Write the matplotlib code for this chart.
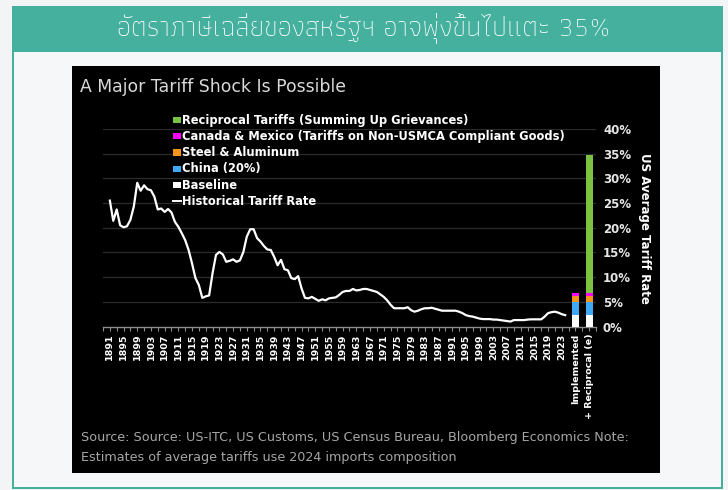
import matplotlib
matplotlib.use("Agg")
import matplotlib.pyplot as plt
from matplotlib.patches import Rectangle
from matplotlib import font_manager as fm
from matplotlib.ft2font import FT2Font
import numpy as np

# ---------------- data ----------------
years = list(range(1891, 2025))
historical_rate = [
    25.5, 21.4, 23.7, 20.5, 20.1, 20.3, 21.6, 24.3, 29.1, 27.5,   # 1891-1900
    28.6, 27.8, 27.6, 26.3, 23.7, 23.9, 23.2, 23.8, 23.1, 21.2,   # 1901-1910
    20.2, 18.9, 17.5, 15.5, 12.8, 9.8, 8.4, 5.8, 6.1, 6.3,        # 1911-1920
    10.8, 14.5, 15.1, 14.6, 13.1, 13.3, 13.6, 13.1, 13.4, 15.1,   # 1921-1930
    18.2, 19.7, 19.7, 17.9, 17.2, 16.3, 15.6, 15.5, 14.1, 12.4,   # 1931-1940
    13.5, 11.6, 11.4, 9.8, 9.6, 10.2, 7.7, 5.8, 5.7, 6.0,         # 1941-1950
    5.6, 5.2, 5.5, 5.3, 5.7, 5.8, 5.9, 6.4, 7.0, 7.2,             # 1951-1960
    7.2, 7.6, 7.3, 7.4, 7.6, 7.6, 7.4, 7.2, 7.0, 6.5,             # 1961-1970
    6.0, 5.3, 4.4, 3.7, 3.7, 3.7, 3.7, 3.9, 3.3, 3.0,             # 1971-1980
    3.2, 3.5, 3.7, 3.7, 3.8, 3.6, 3.4, 3.2, 3.2, 3.2,             # 1981-1990
    3.2, 3.2, 3.0, 2.7, 2.3, 2.1, 2.0, 1.8, 1.6, 1.5,             # 1991-2000
    1.5, 1.5, 1.4, 1.4, 1.3, 1.2, 1.1, 1.0, 1.3, 1.3,             # 2001-2010
    1.3, 1.3, 1.4, 1.45, 1.45, 1.45, 1.45, 2.0, 2.7, 2.9,         # 2011-2020
    3.0, 2.8, 2.5, 2.3,                                           # 2021-2024
]

bar_labels = ["Implemented", "+ Reciprocal (e)"]
bar_pos = [2027, 2031]
baseline = [2.3, 2.3]
china = [2.7, 2.7]
steel_aluminum = [1.1, 1.1]
canada_mexico = [0.6, 0.6]
reciprocal = [0.0, 28.0]

tick_years = list(range(1891, 2024, 4))
y_ticks = [0, 5, 10, 15, 20, 25, 30, 35, 40]

legend_items = [
    ("Reciprocal Tariffs (Summing Up Grievances)", "#7cc242", "patch"),
    ("Canada & Mexico (Tariffs on Non-USMCA Compliant Goods)", "#ff00ff", "patch"),
    ("Steel & Aluminum", "#f7941d", "patch"),
    ("China (20%)", "#3fa9f5", "patch"),
    ("Baseline", "#ffffff", "patch"),
    ("Historical Tariff Rate", "#ffffff", "line"),
]

THAI_TITLE = "อัตราภาษีเฉลี่ยของสหรัฐฯ อาจพุ่งขึ้นไปแตะ 35%"

# ---------------- fonts: pick a light/regular Thai-capable font ----------------
needed = set(c for c in THAI_TITLE if c != " ")
cands = []
for f in sorted(fm.findSystemFonts()):
    try:
        ft = FT2Font(f)
        cov = sum(1 for c in needed if ft.get_char_index(ord(c)))
        style = (ft.style_name or "").lower()
        score = cov * 10
        if "bold" in style or "oblique" in style or "italic" in style:
            score -= 5
        if "light" in style:
            score += 2
        if "regular" in style or style == "book":
            score += 1
        cands.append((score, f))
    except Exception:
        pass
cands.sort(key=lambda t: -t[0])
thai_font = cands[0][1] if cands else None

W, H = 728, 490
fig = plt.figure(figsize=(W / 100, H / 100), dpi=100)
fig.patch.set_facecolor("#f2f4f6")


def px_rect(x0, y0, x1, y1, **kw):
    fig.patches.append(Rectangle((x0 / W, 1 - y1 / H), (x1 - x0) / W, (y1 - y0) / H,
                                 transform=fig.transFigure, figure=fig, **kw))


def fx(x):
    return x / W


def fy(y):
    return 1 - y / H


TEAL = "#46b09f"
px_rect(12, 6, 723, 489, facecolor="#f6f7f9", edgecolor="none", zorder=0)
px_rect(12, 50, 14.5, 489, facecolor=TEAL, edgecolor="none", zorder=1)
px_rect(720.5, 50, 723, 489, facecolor=TEAL, edgecolor="none", zorder=1)
px_rect(12, 486.5, 723, 489, facecolor=TEAL, edgecolor="none", zorder=1)
px_rect(12, 6, 723, 52, facecolor=TEAL, edgecolor="none", zorder=1)

if thai_font:
    tfp = fm.FontProperties(fname=thai_font, size=20)
else:
    tfp = fm.FontProperties(family="DejaVu Sans", size=20)
fig.text(fx(364), fy(28), THAI_TITLE, fontproperties=tfp, color="white",
         ha="center", va="center", zorder=5)

px_rect(72, 66, 660, 473, facecolor="#000000", edgecolor="none", zorder=1)

fig.text(fx(80), fy(87), "A Major Tariff Shock Is Possible", color="#d9d9d9",
         fontsize=12.4, ha="left", va="center", zorder=5)

# ---------------- axes ----------------
ax_l, ax_r, ax_t, ax_b = 103, 596, 129, 326.5
ax = fig.add_axes([fx(ax_l), fy(ax_b), (ax_r - ax_l) / W, (ax_b - ax_t) / H])
ax.set_facecolor("none")
ax.set_zorder(3)
ax.set_xlim(1889.3, 2033.0)
ax.set_ylim(0, 40)

for y in y_ticks[1:]:
    ax.axhline(y, color="#2b2b2b", lw=0.9, zorder=1)

ax.plot(years, historical_rate, color="white", lw=1.6, zorder=4, solid_joinstyle="round")

bw = 2.0
bottom = np.zeros(2)
for vals, col in [(baseline, "#ffffff"), (china, "#3fa9f5"), (steel_aluminum, "#f7941d"),
                  (canada_mexico, "#ff00ff"), (reciprocal, "#7cc242")]:
    ax.bar(bar_pos, vals, width=bw, bottom=bottom, color=col, edgecolor="none", zorder=3)
    bottom = bottom + np.array(vals)

for s in ["top", "left", "right"]:
    ax.spines[s].set_visible(False)
ax.spines["bottom"].set_color("#8c8c8c")
ax.spines["bottom"].set_linewidth(1.0)

ax.set_xticks(tick_years + bar_pos)
ax.set_xticklabels([str(y) for y in tick_years] + bar_labels, rotation=90,
                   fontsize=6.8, fontweight="bold", color="white")
ax.set_xticks(list(range(1889, 2034, 2)), minor=True)
ax.tick_params(axis="x", which="both", length=3, width=0.8, color="#8c8c8c", pad=2)

ax.yaxis.tick_right()
ax.set_yticks(y_ticks)
ax.set_yticklabels([f"{v}%" for v in y_ticks], fontsize=8.5, fontweight="bold", color="#e6e6e6")
ax.tick_params(axis="y", length=0, pad=5)

fig.text(fx(645), fy(228), "US Average Tariff Rate", rotation=270, color="white",
         fontsize=8.5, fontweight="bold", ha="center", va="center", zorder=5)

# ---------------- legend ----------------
ly0, ldy = 120, 16.3
for i, (lab, col, kind) in enumerate(legend_items):
    yc = ly0 + i * ldy
    if kind == "patch":
        px_rect(172.5, yc - 3.2, 180.5, yc + 3.2, facecolor=col, edgecolor="none", zorder=5)
    else:
        fig.lines.append(plt.Line2D([fx(172.5), fx(181)], [fy(yc), fy(yc)], color=col, lw=1.4,
                                    transform=fig.transFigure, figure=fig, zorder=5))
    fig.text(fx(182), fy(yc), lab, color="white", fontsize=8.3, fontweight="bold",
             ha="left", va="center", zorder=5)

# ---------------- source ----------------
fig.text(fx(81), fy(437), "Source: Source: US-ITC, US Customs, US Census Bureau, Bloomberg Economics Note:",
         color="#a6a6a6", fontsize=9.2, ha="left", va="center", zorder=5)
fig.text(fx(81), fy(457), "Estimates of average tariffs use 2024 imports composition",
         color="#a6a6a6", fontsize=9.2, ha="left", va="center", zorder=5)

fig.savefig("out.png", dpi=100, facecolor=fig.get_facecolor())
